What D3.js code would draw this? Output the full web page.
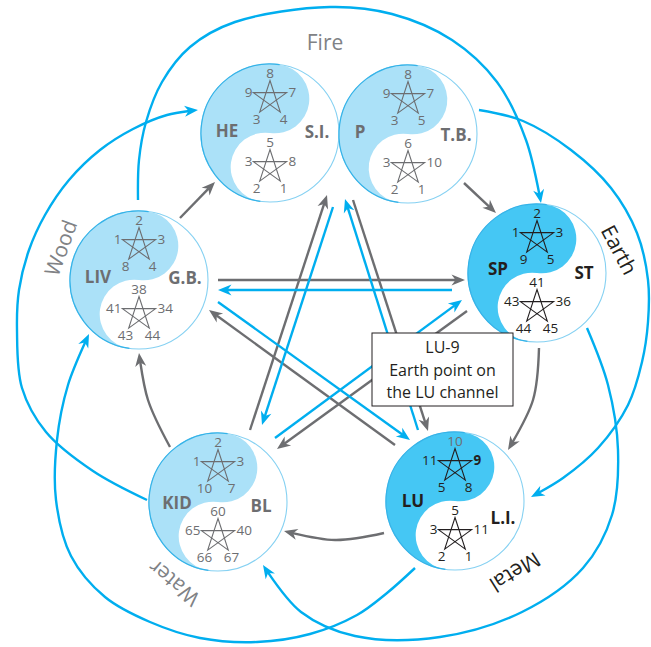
<!DOCTYPE html>
<html><head><meta charset="utf-8">
<script src="https://cdn.jsdelivr.net/npm/d3@7"></script>
<style>body{margin:0;background:#fff} svg{display:block}</style>
</head><body>
<svg id="chart" width="651" height="647"></svg>
<script>
// ================= DATA =================
const elements = ["Fire", "Earth", "Metal", "Water", "Wood"];
const yinOrgans = ["HE", "P", "SP", "LU", "KID", "LIV"];
const yangOrgans = ["S.I.", "T.B.", "ST", "L.I.", "BL", "G.B."];
const organElement = ["Fire", "Fire", "Earth", "Metal", "Water", "Wood"];
// numbers round each pentagram: top, left, right, bottom-left, bottom-right
const yinPoints = [[8,9,7,3,4],[8,9,7,3,5],[2,1,3,9,5],[10,11,9,5,8],[2,1,3,10,7],[2,1,3,8,4]];
const yangPoints = [[5,3,8,2,1],[6,3,10,2,1],[41,43,36,44,45],[5,3,11,2,1],[60,65,40,66,67],[38,41,34,43,44]];
const emphasisElements = ["Earth", "Metal"];
const highlightPoint = ["LU", 9];
const mutedPoint = ["LU", 10];
const noteLines = ["LU-9", "Earth point on", "the LU channel"];
// outer blue arcs (from element -> to element)
const outerCycle = [["Wood","Earth"],["Water","Fire"],["Fire","Metal"],["Earth","Water"],["Metal","Wood"]];
// inner arrows (from organ -> to organ)
const adjArrows = [["LIV","HE"],["T.B.","SP"],["ST","L.I."],["LU","BL"],["KID","LIV"]];
const crossGray = [["G.B.","SP"],["LU","G.B."],["BL","S.I."],["P","LU"],["SP","BL"]];
const crossBlue = [["SP","G.B."],["G.B.","LU"],["S.I.","BL"],["LU","P"],["BL","SP"]];

// ================= LAYOUT =================
const R = 69;
const layout = {
  centers: {HE:[270,133], P:[408,134], SP:[537,273], LU:[455,501], KID:[218,502], LIV:[139,280]},
  yinLabel: {HE:[-43,-2], P:[-48,-2], SP:[-39,-4], LU:[-42,0], KID:[-41,1], LIV:[-41,-3]},
  yangLabel: {HE:[47,-1], P:[48,1], SP:[47,0], LU:[48,17], KID:[43,4], LIV:[46,-2]},
  starUp: -35, starDown: 34, starR: 17.5,
  outerArcs: [
    [[138,200],[139,160],[146,122],[162,82],[190,47],[235,22],[330,7],[392,14],[452,40],[497,82],[526,140],[541,203]],
    [[147,500],[93,471],[46,432],[22,388],[17,330],[19,290],[29,250],[45,215],[69,180],[100,150],[133,129],[167,115],[198,110]],
    [[479,110],[523,121],[571,150],[611,188],[637,233],[648,280],[648,322],[642,362],[628,405],[598,448],[563,478],[531,497]],
    [[587,328],[608,385],[618,450],[612,515],[583,568],[522,612],[440,637],[355,636],[301,612],[263,565]],
    [[415,568],[387,593],[357,615],[310,634],[257,642],[200,638],[150,622],[105,597],[71,556],[56,500],[57,440],[68,385],[89,334]]
  ],
  adjArrows: [
    [[180,218],[215,182]],
    [[464,183],[496,213]],
    [[539,348],[533,400],[508,450]],
    [[384,533],[335,540],[284,531]],
    [[170,447],[148,400],[139,353]]
  ],
  crossGray: [
    [[218,280],[465,280]],
    [[395,445],[209,310]],
    [[250,430],[327,195]],
    [[353,200],[428,431]],
    [[467,311],[277,449]]
  ],
  crossBlue: [
    [[452,290],[218,290]],
    [[218,302],[410,440]],
    [[333,207],[262,425]],
    [[418,430],[345,199]],
    [[275,438],[462,300]]
  ],
  elementLabels: {Fire:[325,43,0], Earth:[619,250,62], Metal:[515,572,148], Water:[174,583,220], Wood:[61,248,-70]},
  note: {x:372, y:333, w:141, h:73, baselines:[353,375.5,398]}
};

const C = {
  blue: "#00aeef", gray: "#6d6e71", text: "#6d6e71", dark: "#231f20",
  light: "#abe1f8", deep: "#45c7f4", rim: "#86d1f2", rimDark: "#35b3e8"
};
const FONT = "'Open Sans', 'Noto Sans', sans-serif";

// ================= DRAW =================
const svg = d3.select("#chart");
const defs = svg.append("defs");
function marker(id, color) {
  defs.append("marker").attr("id", id)
    .attr("viewBox", "-15 -7 17 14").attr("refX", 0).attr("refY", 0)
    .attr("markerUnits", "userSpaceOnUse").attr("markerWidth", 17).attr("markerHeight", 14)
    .attr("orient", "auto")
    .append("path").attr("d", "M0,0 L-13.5,-5.5 L-9.5,0 L-13.5,5.5 Z").attr("fill", color);
}
marker("ah-blue", C.blue);
marker("ah-gray", C.gray);

const curve = d3.line().curve(d3.curveCatmullRom.alpha(0.5));

function arrow(g, pts, color, id) {
  const p = g.append("path").attr("d", curve(pts))
    .attr("fill", "none").attr("stroke", color).attr("stroke-width", 2.4)
    .attr("marker-end", `url(#${id})`);
  const L = p.node().getTotalLength();
  p.attr("stroke-dasharray", `${L - 9} ${L + 20}`);
}

const gLines = svg.append("g");
outerCycle.forEach((d, i) => arrow(gLines, layout.outerArcs[i], C.blue, "ah-blue"));
adjArrows.forEach((d, i) => arrow(gLines, layout.adjArrows[i], C.gray, "ah-gray"));
crossGray.forEach((d, i) => arrow(gLines, layout.crossGray[i], C.gray, "ah-gray"));
crossBlue.forEach((d, i) => arrow(gLines, layout.crossBlue[i], C.blue, "ah-blue"));

// yin-yang circles
const organs = yinOrgans.map((yin, i) => ({
  yin, yang: yangOrgans[i], element: organElement[i],
  yinPts: yinPoints[i], yangPts: yangPoints[i],
  emph: emphasisElements.includes(organElement[i])
}));

const yyPath = r => `M0,${-r} A${r},${r} 0 0 0 0,${r} A${r/2},${r/2} 0 0 1 0,0 A${r/2},${r/2} 0 0 0 0,${-r} Z`;
const rimPath = r => `M0,${-r} A${r},${r} 0 0 0 0,${r}`;

function starPath(rr) {
  const pts = d3.range(5).map(k => {
    const a = -Math.PI / 2 + k * 2 * Math.PI / 5;
    return [rr * Math.cos(a), rr * Math.sin(a)];
  });
  const order = [0, 2, 4, 1, 3];
  return "M" + order.map(k => pts[k].map(v => v.toFixed(2)).join(",")).join("L") + "Z";
}

const gNodes = svg.append("g");
organs.forEach(o => {
  const [cx, cy] = layout.centers[o.yin];
  const g = gNodes.append("g").attr("transform", `translate(${cx},${cy})`);
  g.append("circle").attr("r", R).attr("fill", "#fff").attr("stroke", C.rim).attr("stroke-width", 1.1);
  const yy = g.append("g").attr("transform", "rotate(8)");
  yy.append("path").attr("d", yyPath(R)).attr("fill", o.emph ? C.deep : C.light);
  yy.append("path").attr("d", rimPath(R)).attr("fill", "none").attr("stroke", C.rimDark).attr("stroke-width", 1.2);

  const tcol = o.emph ? C.dark : C.text;
  // organ labels
  const [lx, ly] = layout.yinLabel[o.yin];
  g.append("text").attr("x", lx).attr("y", ly).attr("dy", "0.35em").attr("text-anchor", "middle")
    .attr("font-family", FONT).attr("font-weight", 700).attr("font-size", 17).attr("fill", tcol).text(o.yin);
  const [rx, ry] = layout.yangLabel[o.yin];
  g.append("text").attr("x", rx).attr("y", ry).attr("dy", "0.35em").attr("text-anchor", "middle")
    .attr("font-family", FONT).attr("font-weight", 700).attr("font-size", 17).attr("fill", tcol).text(o.yang);

  // stars
  [[layout.starUp, o.yinPts, o.yin], [layout.starDown, o.yangPts, o.yang]].forEach(([sy, nums, name]) => {
    const sg = g.append("g").attr("transform", `translate(0,${sy})`);
    sg.append("path").attr("d", starPath(layout.starR)).attr("fill", "none")
      .attr("stroke", tcol).attr("stroke-width", 1.1).attr("stroke-linejoin", "miter");
    const pos = [[0, -25, "middle"], [-17.5, -6, "end"], [18.5, -6, "start"], [-13.5, 21, "middle"], [13.5, 21, "middle"]];
    nums.forEach((n, k) => {
      const isHi = name === highlightPoint[0] && n === highlightPoint[1];
      const isMu = name === mutedPoint[0] && n === mutedPoint[1];
      sg.append("text").attr("x", pos[k][0]).attr("y", pos[k][1]).attr("dy", "0.35em")
        .attr("text-anchor", pos[k][2]).attr("font-family", FONT).attr("font-size", 13.5)
        .attr("font-weight", isHi ? 700 : 400)
        .attr("fill", isMu ? C.text : tcol).text(n);
    });
  });
});

// element labels
elements.forEach(e => {
  const [x, y, rot] = layout.elementLabels[e];
  svg.append("text").attr("transform", `translate(${x},${y}) rotate(${rot})`)
    .attr("dy", "0.35em").attr("text-anchor", "middle")
    .attr("font-family", FONT).attr("font-size", 21)
    .attr("fill", emphasisElements.includes(e) ? C.dark : "#808285").text(e);
});

// note box
const nb = layout.note;
svg.append("rect").attr("x", nb.x).attr("y", nb.y).attr("width", nb.w).attr("height", nb.h)
  .attr("fill", "#fff").attr("stroke", C.dark).attr("stroke-width", 1);
noteLines.forEach((t, i) => {
  svg.append("text").attr("x", nb.x + nb.w / 2).attr("y", nb.baselines[i]).attr("text-anchor", "middle")
    .attr("font-family", FONT).attr("font-size", 16).attr("fill", C.dark).text(t);
});
</script>
</body></html>
